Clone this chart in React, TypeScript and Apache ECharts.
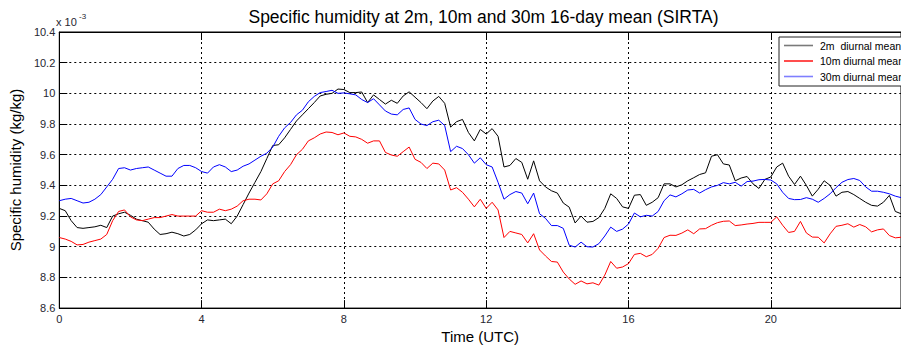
import React, { useEffect, useRef } from "react";
import * as echarts from "echarts";

// Sampling step of the diurnal means (10 minutes, in hours)
const TIME_STEP_HOURS = 1 / 6;

// Specific humidity, units of 1e-3 kg/kg
const q2m = [
  9.25, 9.235, 9.17, 9.125, 9.12, 9.125, 9.13, 9.14, 9.125, 9.2,
  9.215, 9.225, 9.205, 9.18, 9.17, 9.16, 9.115, 9.08, 9.085, 9.095,
  9.085, 9.07, 9.08, 9.11, 9.15, 9.175, 9.17, 9.175, 9.18, 9.15,
  9.2, 9.275, 9.35, 9.42, 9.49, 9.575, 9.66, 9.665, 9.71, 9.765,
  9.82, 9.86, 9.9, 9.94, 9.983, 9.994, 10.0, 10.028, 10.025, 10.005,
  10.005, 10.009, 9.94, 9.99, 9.96, 9.93, 9.955, 9.935, 9.983, 10.01,
  9.975, 9.94, 9.9, 9.95, 9.98, 9.935, 9.78, 9.815, 9.83, 9.745,
  9.69, 9.765, 9.735, 9.77, 9.72, 9.52, 9.53, 9.575, 9.55, 9.44,
  9.56, 9.43, 9.39, 9.365, 9.35, 9.285, 9.258, 9.155, 9.2, 9.16,
  9.165, 9.19, 9.25, 9.345, 9.315, 9.26, 9.25, 9.336, 9.34, 9.27,
  9.29, 9.32, 9.41, 9.41, 9.39, 9.404, 9.43, 9.45, 9.471, 9.482,
  9.59, 9.6, 9.54, 9.533, 9.43, 9.448, 9.458, 9.41, 9.38, 9.439,
  9.455, 9.52, 9.545, 9.46, 9.406, 9.46, 9.4, 9.33, 9.375, 9.43,
  9.4, 9.33, 9.355, 9.36, 9.34, 9.315, 9.29, 9.27, 9.265, 9.29,
  9.335, 9.23, 9.215,
];

const q10m = [
  9.06, 9.05, 9.035, 9.012, 9.015, 9.03, 9.04, 9.05, 9.08, 9.17,
  9.23, 9.24, 9.195, 9.175, 9.17, 9.18, 9.19, 9.19, 9.2, 9.21,
  9.2, 9.2, 9.2, 9.2, 9.235, 9.225, 9.225, 9.245, 9.235, 9.245,
  9.265, 9.3, 9.31, 9.31, 9.305, 9.345, 9.41, 9.43, 9.49, 9.535,
  9.6, 9.635, 9.69, 9.71, 9.735, 9.748, 9.745, 9.73, 9.742, 9.72,
  9.716, 9.7, 9.675, 9.69, 9.69, 9.615, 9.598, 9.59, 9.62, 9.65,
  9.57, 9.55, 9.51, 9.545, 9.54, 9.5, 9.37, 9.385, 9.355, 9.31,
  9.26, 9.31, 9.25, 9.29, 9.24, 9.06, 9.1, 9.09, 9.08, 9.025,
  9.085, 8.979, 8.94, 8.904, 8.9, 8.835, 8.79, 8.755, 8.777, 8.758,
  8.765, 8.75, 8.815, 8.904, 8.86, 8.868, 8.89, 8.95, 8.957, 8.935,
  8.95, 8.99, 9.06, 9.075, 9.074, 9.089, 9.11, 9.085, 9.116, 9.118,
  9.14, 9.157, 9.166, 9.168, 9.138, 9.142, 9.148, 9.152, 9.159, 9.159,
  9.159, 9.195, 9.14, 9.093, 9.1, 9.165, 9.09, 9.063, 9.062, 9.025,
  9.084, 9.133, 9.14, 9.15, 9.128, 9.145, 9.13, 9.097, 9.11, 9.116,
  9.073, 9.058, 9.062,
];

const q30m = [
  9.3, 9.31, 9.315, 9.3, 9.285, 9.29, 9.31, 9.34, 9.39, 9.44,
  9.51, 9.515, 9.5, 9.51, 9.515, 9.52, 9.5, 9.48, 9.46, 9.46,
  9.51, 9.53, 9.53, 9.515, 9.49, 9.48, 9.52, 9.535, 9.52, 9.49,
  9.5, 9.525, 9.54, 9.565, 9.59, 9.61, 9.65, 9.72, 9.775, 9.81,
  9.86, 9.89, 9.945, 9.98, 10.005, 10.012, 10.02, 10.0, 10.003, 9.997,
  9.99, 9.96, 9.94, 9.965, 9.925, 9.885, 9.865, 9.86, 9.895, 9.905,
  9.83, 9.8, 9.79, 9.815, 9.825, 9.79, 9.62, 9.655, 9.64, 9.6,
  9.545, 9.58, 9.535, 9.52, 9.42, 9.31, 9.34, 9.36, 9.35, 9.28,
  9.35, 9.215, 9.185, 9.138, 9.138, 9.12, 9.01, 8.998, 9.03, 9.0,
  8.998, 9.02, 9.07, 9.128, 9.1, 9.115, 9.148, 9.22, 9.195, 9.205,
  9.2, 9.23, 9.3, 9.338, 9.325, 9.345, 9.37, 9.374, 9.35, 9.372,
  9.39, 9.4, 9.418, 9.41, 9.42, 9.395, 9.425, 9.428, 9.437, 9.439,
  9.435, 9.41, 9.355, 9.315, 9.307, 9.308, 9.32, 9.31, 9.29, 9.315,
  9.345, 9.385, 9.42, 9.438, 9.445, 9.432, 9.39, 9.362, 9.362, 9.355,
  9.345, 9.33, 9.32,
];

const seriesNames = ["2m  diurnal mean", "10m diurnal mean", "30m diurnal mean"];
const seriesColors = ["#000000", "#ff0000", "#0000ff"];
const legendColors = ["#7a7a7a", "#ff2020", "#7f7fff"];

const X_MIN = 0;
const X_MAX = 23.66;
const X_INTERVAL = 4;
const Y_MIN = 8.6;
const Y_MAX = 10.4;
const Y_INTERVAL = 0.2;

const TITLE = "Specific humidity at 2m, 10m and 30m 16-day mean (SIRTA)";
const X_NAME = "Time (UTC)";
const Y_NAME = "Specific humidity (kg/kg)";

const toPairs = (vals: number[]) => vals.map((v, i) => [i * TIME_STEP_HOURS, v]);

const FONT = "'Liberation Sans', Arial, Helvetica, sans-serif";
const TICK_COLOR = "#262630";

export default function App() {
  const ref = useRef<HTMLDivElement>(null);

  useEffect(() => {
    if (!ref.current) return;
    const chart = echarts.init(ref.current, undefined, { renderer: "svg" });
    const gridLine = { show: true, lineStyle: { color: "#000", type: [2, 3], width: 1 } };
    const tick = { show: true, inside: true, length: 8, lineStyle: { color: "#000", width: 1 } };
    const axisLine = { show: true, onZero: false, lineStyle: { color: "#000", width: 1 } };
    const data = [q2m, q10m, q30m];

    chart.setOption({
      animation: false,
      backgroundColor: "#ffffff",
      textStyle: { fontFamily: FONT },
      title: {
        text: TITLE,
        left: 478.5,
        top: 3,
        textAlign: "center",
        textStyle: { fontSize: 17.5, fontWeight: "normal", color: "#000", fontFamily: FONT },
      },
      grid: {
        left: 56,
        top: 32,
        width: 846,
        height: 281,
        show: true,
        borderColor: "#000",
        borderWidth: 1,
        backgroundColor: "transparent",
      },
      legend: {
        orient: "vertical",
        left: 779,
        top: 37,
        selectedMode: false,
        data: seriesNames.map((n, i) => ({ name: n, itemStyle: { color: legendColors[i] } })),
        icon: "rect",
        itemWidth: 29,
        itemHeight: 1.6,
        itemGap: 2.5,
        padding: [2, 40, 3, 5],
        borderColor: "#222",
        borderWidth: 1,
        backgroundColor: "#fff",
        textStyle: { fontSize: 10.5, color: "#000", lineHeight: 13, fontFamily: FONT, padding: [0, 0, 0, 2] },
      },
      graphic: [
        { type: "text", left: 56, top: 16, style: { text: "x 10", fontSize: 11, fill: TICK_COLOR, fontFamily: FONT } },
        { type: "text", left: 79, top: 12, style: { text: "-3", fontSize: 8, fill: TICK_COLOR, fontFamily: FONT } },
      ],
      xAxis: [
        {
          type: "value",
          min: X_MIN,
          max: X_MAX,
          interval: X_INTERVAL,
          position: "bottom",
          name: X_NAME,
          nameLocation: "middle",
          nameGap: 17,
          nameTextStyle: { fontSize: 15, color: "#000", fontFamily: FONT },
          axisLine,
          axisTick: tick,
          axisLabel: { color: TICK_COLOR, fontSize: 11, margin: 5, showMaxLabel: false, fontFamily: FONT },
          splitLine: gridLine,
        },
        {
          type: "value",
          min: X_MIN,
          max: X_MAX,
          interval: X_INTERVAL,
          position: "top",
          axisLine,
          axisTick: tick,
          axisLabel: { show: false },
          splitLine: { show: false },
        },
      ],
      yAxis: {
        type: "value",
        min: Y_MIN,
        max: Y_MAX,
        interval: Y_INTERVAL,
        name: Y_NAME,
        nameLocation: "middle",
        nameGap: 32,
        nameTextStyle: { fontSize: 15, color: "#000", fontFamily: FONT },
        axisLine,
        axisTick: tick,
        axisLabel: {
          color: TICK_COLOR,
          fontSize: 11,
          margin: 4,
          fontFamily: FONT,
          formatter: (v: number) => String(Math.round(v * 10) / 10),
        },
        splitLine: gridLine,
      },
      series: data.map((vals, i) => ({
        name: seriesNames[i],
        type: "line",
        xAxisIndex: 0,
        data: toPairs(vals),
        showSymbol: false,
        symbol: "none",
        clip: true,
        lineStyle: { color: seriesColors[i], width: 1 },
        itemStyle: { color: seriesColors[i] },
        emphasis: { disabled: true },
      })),
    });

    return () => chart.dispose();
  }, []);

  return (
    <div
      ref={ref}
      style={{ position: "absolute", left: 0, top: 0, width: 901, height: 349, overflow: "hidden" }}
    />
  );
}
